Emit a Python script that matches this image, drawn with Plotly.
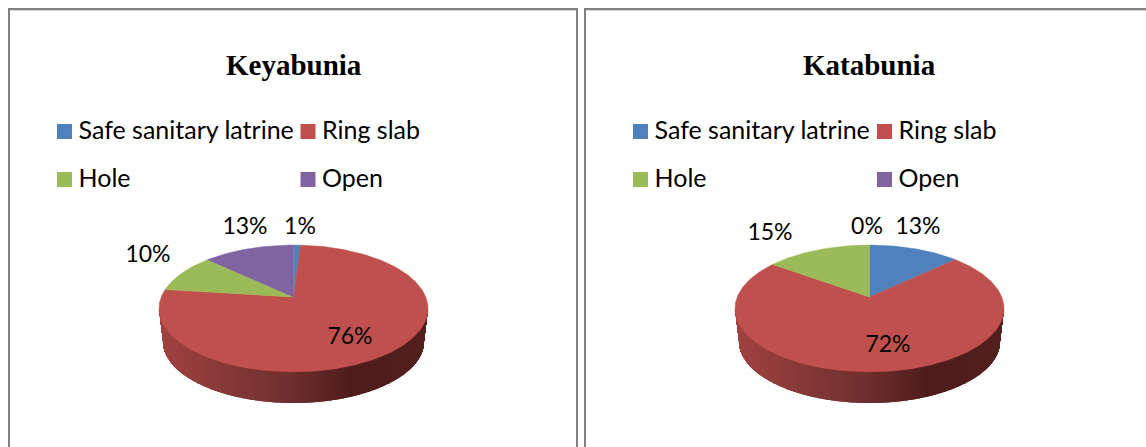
import math
import plotly.graph_objects as go

CATEGORIES = ["Safe sanitary latrine", "Ring slab", "Hole", "Open"]
COLORS = ["#4F81BD", "#C0504D", "#9BBB59", "#8064A2"]
TITLES = ["Keyabunia", "Katabunia"]
KEYABUNIA_VALUES = [1, 76, 10, 13]
KATABUNIA_VALUES = [13, 72, 15, 0]

W, H = 1146, 447
PIE_CX = [293.5, 869.5]
TITLE_Y = 65
LEGEND_COL_X = [[64.5, 308], [640.5, 884.5]]
LEGEND_ROW_Y = [131.5, 179.5]
LEGEND_TEXT_DX, LEGEND_TEXT_DY = 14, 1.5
LABEL_POS = [
    [(300, 228), (350, 338), (148, 256), (245, 228)],
    [(918, 228), (888, 346), (770, 234), (867, 228)],
]
# tilted-disc projection
APEX_Y, TILT, SQUASH, RX_PROJ = 297.0, 0.181, -7.6, 132.3
FACE_CY, FACE_RX, FACE_RY = 308.5, 134.5, 63.5
BASE_CY, BASE_RX, BASE_RY = 341.4, 130.5, 61.6
RIM_STOPS = [(0.0, (160, 66, 64)), (0.47, (112, 48, 47)), (0.72, (78, 28, 27)), (1.0, (82, 31, 29))]
LABEL_FONT = dict(family="Lato, Carlito, sans-serif", size=23, color="#000000")
LEGEND_FONT = dict(family="Lato, Carlito, sans-serif", size=25, color="#000000")


def project(cx, angle):
    u, v = math.sin(angle), math.cos(angle)
    d = 1 + TILT * v
    return cx + RX_PROJ * u / d, (SQUASH * v + APEX_Y) / d


def rim_color(t):
    for (t0, c0), (t1, c1) in zip(RIM_STOPS, RIM_STOPS[1:]):
        if t <= t1:
            f = (t - t0) / (t1 - t0)
            return "rgb(%d,%d,%d)" % tuple(round(a + (b - a) * f) for a, b in zip(c0, c1))
    return "rgb(%d,%d,%d)" % RIM_STOPS[-1][1]


def rim_bottom(px, cx):
    dx = px - cx
    if abs(dx) >= BASE_RX:
        s = (abs(dx) - BASE_RX) / (FACE_RX - BASE_RX)
        return BASE_CY + s * (FACE_CY - BASE_CY)
    return BASE_CY + BASE_RY * math.sqrt(1 - (dx / BASE_RX) ** 2)


fig = go.Figure()

for idx, values in enumerate([KEYABUNIA_VALUES, KATABUNIA_VALUES]):
    cx = PIE_CX[idx]
    # rim, as one bar trace of thin columns shaded left to right
    xs = [cx - FACE_RX + i for i in range(int(2 * FACE_RX) + 1)]
    fig.add_trace(go.Bar(
        x=xs,
        y=[rim_bottom(x, cx) - FACE_CY for x in xs],
        base=[FACE_CY] * len(xs),
        width=1.2,
        marker=dict(color=[rim_color((x - xs[0]) / (xs[-1] - xs[0])) for x in xs], line_width=0),
        showlegend=False, hoverinfo="skip",
    ))
    # top face wedges, clockwise from 12 o'clock
    total = sum(values)
    start = 0.0
    for name, value, color, pos in zip(CATEGORIES, values, COLORS, LABEL_POS[idx]):
        sweep = 2 * math.pi * value / total
        if value > 0:
            n = max(2, int(value * 4))
            pts = [project(cx, start + sweep * i / n) for i in range(n + 1)]
            px = [cx] + [p[0] for p in pts] + [cx]
            py = [APEX_Y] + [p[1] for p in pts] + [APEX_Y]
            fig.add_trace(go.Scatter(
                x=px, y=py, mode="lines", fill="toself", fillcolor=color,
                line=dict(color=color, width=0.5), name=name,
                showlegend=False, hoverinfo="name",
            ))
        start += sweep
    # data labels
    fig.add_trace(go.Scatter(
        x=[p[0] for p in LABEL_POS[idx]], y=[p[1] for p in LABEL_POS[idx]],
        mode="text", text=[f"{v}%" for v in values], textposition="middle center",
        textfont=LABEL_FONT, showlegend=False, hoverinfo="skip",
    ))
    # legend keys
    key_x = [LEGEND_COL_X[idx][i % 2] for i in range(4)]
    key_y = [LEGEND_ROW_Y[i // 2] for i in range(4)]
    fig.add_trace(go.Scatter(
        x=key_x, y=key_y, mode="markers",
        marker=dict(symbol="square", size=15, color=COLORS, line_width=0),
        showlegend=False, hoverinfo="skip",
    ))
    fig.add_trace(go.Scatter(
        x=[k + LEGEND_TEXT_DX for k in key_x], y=[k + LEGEND_TEXT_DY for k in key_y],
        mode="text", text=CATEGORIES,
        textposition="middle right", textfont=LEGEND_FONT,
        showlegend=False, hoverinfo="skip",
    ))
    fig.add_annotation(
        x=cx, y=TITLE_Y, xref="x", yref="y", text=f"<b>{TITLES[idx]}</b>", showarrow=False,
        xanchor="center", yanchor="middle",
        font=dict(family="Liberation Serif, serif", size=29, color="#000000"),
    )

GRAY, PALE = "#808080", "#D9D9D9"
def frame(x0, x1, y0, y1, color, width):
    return dict(type="line", xref="x", yref="y", x0=x0, x1=x1, y0=y0, y1=y1,
                line=dict(color=color, width=width), layer="above")

shapes = [
    frame(9, 577, 9, 9, GRAY, 2), frame(10, 576, 10.5, 10.5, PALE, 1),
    frame(9, 9, 8, H, GRAY, 2), frame(577, 577, 8, H, GRAY, 2),
    frame(585, W, 9, 9, GRAY, 2), frame(586, W, 10.5, 10.5, PALE, 1),
    frame(585, 585, 8, H, GRAY, 2),
]

fig.update_layout(
    width=W, height=H, margin=dict(l=0, r=0, t=0, b=0),
    paper_bgcolor="white", plot_bgcolor="white",
    barmode="overlay", showlegend=False, shapes=shapes,
    xaxis=dict(range=[0, W], visible=False, fixedrange=True),
    yaxis=dict(range=[H, 0], visible=False, fixedrange=True),
)
fig.write_html(
    "out.html",
    config=dict(displayModeBar=False),
    post_script="document.body.style.margin='0';document.documentElement.style.overflow='hidden';",
)
